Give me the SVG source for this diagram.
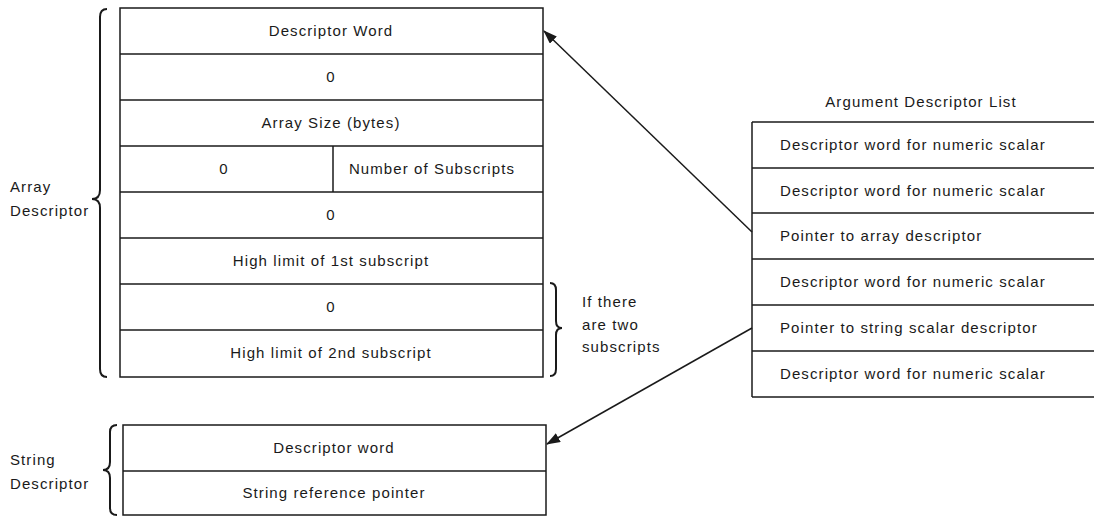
<svg xmlns="http://www.w3.org/2000/svg" width="1094" height="518" viewBox="0 0 1094 518">
<style>
  .box{fill:none;stroke:#1a1a1a;stroke-width:1.5}
  .ln{stroke:#1a1a1a;stroke-width:1.5}
  .br{fill:none;stroke:#1a1a1a;stroke-width:2}
  .t{font-family:"Liberation Sans",Arial,sans-serif;font-size:15px;letter-spacing:1.1px;fill:#1a1a1a}
  .c{text-anchor:middle}
  .conn{stroke:#1a1a1a;stroke-width:1.5;fill:none}
</style>
<defs>
  <marker id="ah" markerWidth="14" markerHeight="10" refX="13" refY="5" orient="auto" markerUnits="userSpaceOnUse">
    <path d="M0,0 L14,5 L0,10 Z" fill="#1a1a1a"/>
  </marker>
</defs>
<rect width="1094" height="518" fill="#ffffff"/>

<g id="array-descriptor">
  <rect class="box" x="120" y="8" width="423" height="369"/>
  <line class="ln" x1="120" y1="54" x2="543" y2="54"/>
  <line class="ln" x1="120" y1="100" x2="543" y2="100"/>
  <line class="ln" x1="120" y1="146" x2="543" y2="146"/>
  <line class="ln" x1="120" y1="192" x2="543" y2="192"/>
  <line class="ln" x1="120" y1="238" x2="543" y2="238"/>
  <line class="ln" x1="120" y1="284" x2="543" y2="284"/>
  <line class="ln" x1="120" y1="330" x2="543" y2="330"/>
  <line class="ln" x1="333" y1="146" x2="333" y2="192"/>
  <text class="t c" x="331" y="36">Descriptor Word</text>
  <text class="t c" x="331" y="82">0</text>
  <text class="t c" x="331" y="128">Array Size (bytes)</text>
  <text class="t c" x="224" y="174">0</text>
  <text class="t c" x="432" y="174">Number of Subscripts</text>
  <text class="t c" x="331" y="220">0</text>
  <text class="t c" x="331" y="266">High limit of 1st subscript</text>
  <text class="t c" x="331" y="312">0</text>
  <text class="t c" x="331" y="358">High limit of 2nd subscript</text>
  <path class="br" d="M107,9 Q100,9 100,17 L100,190 Q100,199 92,199 Q100,199 100,208 L100,369 Q100,377 107,377"/>
  <text class="t" x="10" y="192">Array</text>
  <text class="t" x="10" y="216">Descriptor</text>
  <path class="br" d="M550,283 Q556,283 556,290 L556,321 Q556,328 562,328 Q556,328 556,335 L556,369 Q556,376 550,376"/>
  <text class="t" x="582" y="307">If there</text>
  <text class="t" x="582" y="330">are two</text>
  <text class="t" x="582" y="352">subscripts</text>
</g>

<g id="string-descriptor">
  <rect class="box" x="123" y="425" width="423" height="90"/>
  <line class="ln" x1="123" y1="471" x2="546" y2="471"/>
  <text class="t c" x="334" y="453">Descriptor word</text>
  <text class="t c" x="334" y="498">String reference pointer</text>
  <path class="br" d="M117,425 Q110,425 110,432 L110,462 Q110,470 103,470 Q110,470 110,478 L110,508 Q110,515 117,515"/>
  <text class="t" x="10" y="465">String</text>
  <text class="t" x="10" y="489">Descriptor</text>
</g>

<g id="argument-descriptor-list">
  <text class="t c" x="921" y="107">Argument Descriptor List</text>
  <line class="ln" x1="752" y1="122" x2="752" y2="397"/>
  <line class="ln" x1="752" y1="122" x2="1094" y2="122"/>
  <line class="ln" x1="752" y1="168" x2="1094" y2="168"/>
  <line class="ln" x1="752" y1="213" x2="1094" y2="213"/>
  <line class="ln" x1="752" y1="259" x2="1094" y2="259"/>
  <line class="ln" x1="752" y1="305" x2="1094" y2="305"/>
  <line class="ln" x1="752" y1="351" x2="1094" y2="351"/>
  <line class="ln" x1="752" y1="397" x2="1094" y2="397"/>
  <text class="t" x="780" y="150">Descriptor word for numeric scalar</text>
  <text class="t" x="780" y="196">Descriptor word for numeric scalar</text>
  <text class="t" x="780" y="241">Pointer to array descriptor</text>
  <text class="t" x="780" y="287">Descriptor word for numeric scalar</text>
  <text class="t" x="780" y="333">Pointer to string scalar descriptor</text>
  <text class="t" x="780" y="379">Descriptor word for numeric scalar</text>
</g>

<g id="connectors">
  <line class="conn" x1="752" y1="232" x2="544" y2="31" marker-end="url(#ah)"/>
  <line class="conn" x1="752" y1="328" x2="547" y2="444" marker-end="url(#ah)"/>
</g>
</svg>
